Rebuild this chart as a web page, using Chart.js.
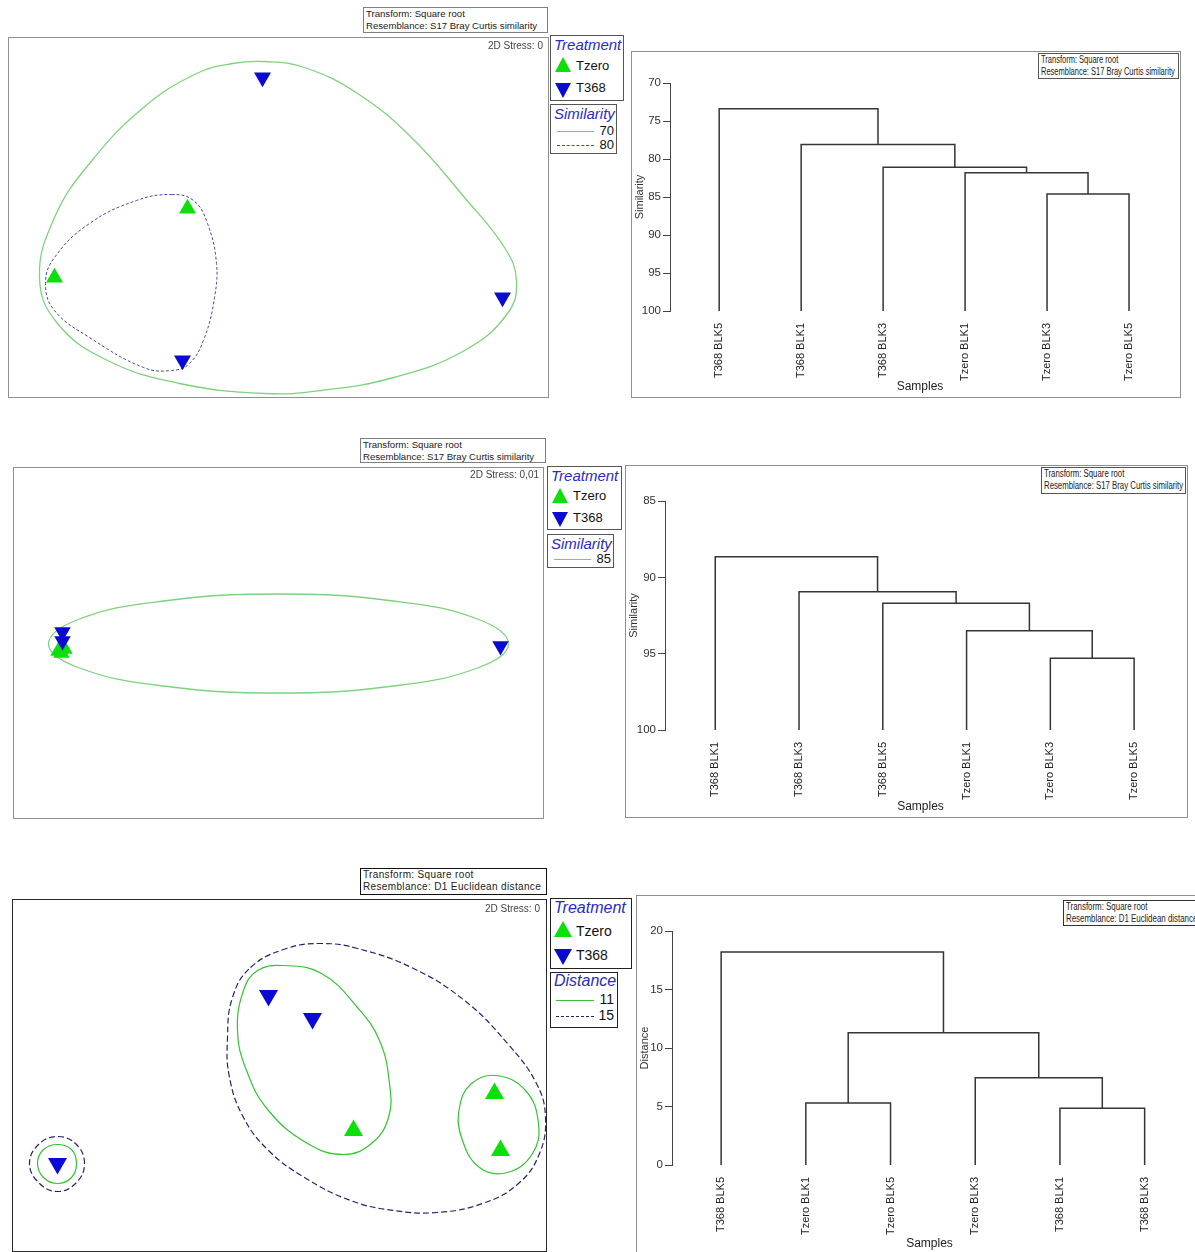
<!DOCTYPE html>
<html>
<head>
<meta charset="utf-8">
<title>nMDS and cluster dendrograms</title>
<script src="https://cdn.jsdelivr.net/npm/chart.js@4.4.1/dist/chart.umd.min.js"></script>
<style>
  html, body { margin: 0; padding: 0; background: #fff; }
  body { position: relative; width: 1195px; height: 1252px; overflow: hidden;
         font-family: "Liberation Sans", Arial, sans-serif; }
  .abs { position: absolute; box-sizing: border-box; }
  .frame { border: 1px solid #8f8f8f; background: #fff; }
  .frame.dark { border-color: #2a2a2a; }
  .frame canvas { display: block; }
  .info { border: 1px solid #808080; background: #fff; font-size: 9.6px; line-height: 12px;
          padding: 0 0 0 2px; color: #222; white-space: nowrap; }
  .info.dark { border: 1.5px solid #111; font-size: 10px; letter-spacing: 0.35px; }
  .info.narrow { font-size: 10px; border-color: #555; overflow: hidden; }
  .info.narrow div { transform-origin: 0 50%; }
  .stress { font-size: 10px; color: #444; white-space: nowrap; text-align: right; z-index: 2; }
  .lg { border: 1px solid #555; background: #fff; }
  .lg.dark { border: 1.5px solid #222; }
  .lgt { font-style: italic; color: #2a2ac8; white-space: nowrap; }
  .lgi { font-size: 13px; line-height: 15px; color: #111; white-space: nowrap; }
  .val { font-size: 13px; line-height: 15px; color: #111; text-align: right; }
  .tri-up { width: 0; height: 0; border-left: 8.5px solid transparent; border-right: 8.5px solid transparent;
            border-bottom: 15px solid #0be00b; }
  .tri-dn { width: 0; height: 0; border-left: 8.5px solid transparent; border-right: 8.5px solid transparent;
            border-top: 15px solid #0a0ad2; }
  .ln { height: 0; }
</style>
</head>
<body>

<!-- ===== Row 1: Bray-Curtis nMDS + dendrogram ===== -->
<div class="abs info" style="left:363px;top:7px;width:185px;height:26px;">
  <div>Transform: Square root</div><div>Resemblance: S17 Bray Curtis similarity</div>
</div>
<div class="abs frame" style="left:8px;top:37px;width:541px;height:361px;">
  <canvas id="mdsA" width="539" height="359"></canvas>
</div>
<div class="abs stress" style="left:440px;top:40px;width:103px;">2D Stress: 0</div>
<div class="abs lg" style="left:550px;top:35px;width:74px;height:66px;">
  <div class="abs lgt" style="left:3px;top:0px;font-size:15px;line-height:17px;">Treatment</div>
  <div class="abs tri-up" style="left:4px;top:21px;"></div>
  <div class="abs lgi" style="left:25px;top:22px;">Tzero</div>
  <div class="abs tri-dn" style="left:4px;top:47px;"></div>
  <div class="abs lgi" style="left:25px;top:44px;">T368</div>
</div>
<div class="abs lg" style="left:550px;top:104px;width:67px;height:50px;">
  <div class="abs lgt" style="left:3px;top:0px;font-size:15px;line-height:17px;">Similarity</div>
  <div class="abs ln" style="left:6px;top:26px;width:37px;border-top:1px solid #6fcf6f;"></div>
  <div class="abs val" style="right:2px;top:18px;">70</div>
  <div class="abs ln" style="left:6px;top:40px;width:37px;border-top:1px dashed #4a4aa8;"></div>
  <div class="abs val" style="right:2px;top:32px;">80</div>
</div>

<div class="abs frame" style="left:631px;top:51px;width:550px;height:347px;">
  <canvas id="dendA" width="548" height="345"></canvas>
</div>
<div class="abs info narrow" style="left:1038px;top:53px;width:141px;height:26px;">
  <div style="transform:scaleX(0.75)">Transform: Square root</div>
  <div style="transform:scaleX(0.75)">Resemblance: S17 Bray Curtis similarity</div>
</div>

<!-- ===== Row 2: Bray-Curtis nMDS + dendrogram ===== -->
<div class="abs info" style="left:360px;top:438px;width:186px;height:25px;">
  <div>Transform: Square root</div><div>Resemblance: S17 Bray Curtis similarity</div>
</div>
<div class="abs frame" style="left:13px;top:467px;width:531px;height:352px;">
  <canvas id="mdsB" width="529" height="350"></canvas>
</div>
<div class="abs stress" style="left:420px;top:469px;width:119px;">2D Stress: 0,01</div>
<div class="abs lg" style="left:547px;top:466px;width:75px;height:64px;">
  <div class="abs lgt" style="left:3px;top:0px;font-size:15px;line-height:17px;">Treatment</div>
  <div class="abs tri-up" style="left:4px;top:21px;"></div>
  <div class="abs lgi" style="left:25px;top:21px;">Tzero</div>
  <div class="abs tri-dn" style="left:4px;top:45px;"></div>
  <div class="abs lgi" style="left:25px;top:43px;">T368</div>
</div>
<div class="abs lg" style="left:547px;top:534px;width:67px;height:34px;">
  <div class="abs lgt" style="left:3px;top:0px;font-size:15px;line-height:17px;">Similarity</div>
  <div class="abs ln" style="left:6px;top:24px;width:37px;border-top:1px solid #6fcf6f;"></div>
  <div class="abs val" style="right:2px;top:16px;">85</div>
</div>

<div class="abs frame" style="left:625px;top:465px;width:563px;height:353px;">
  <canvas id="dendB" width="561" height="351"></canvas>
</div>
<div class="abs info narrow" style="left:1041px;top:467px;width:145px;height:27px;">
  <div style="transform:scaleX(0.78)">Transform: Square root</div>
  <div style="transform:scaleX(0.78)">Resemblance: S17 Bray Curtis similarity</div>
</div>

<!-- ===== Row 3: Euclidean nMDS + dendrogram ===== -->
<div class="abs info dark" style="left:360px;top:868px;width:187px;height:27px;">
  <div>Transform: Square root</div><div>Resemblance: D1 Euclidean distance</div>
</div>
<div class="abs frame dark" style="left:12px;top:899px;width:535px;height:353px;">
  <canvas id="mdsC" width="533" height="351"></canvas>
</div>
<div class="abs stress" style="left:430px;top:903px;width:110px;">2D Stress: 0</div>
<div class="abs lg dark" style="left:550px;top:898px;width:82px;height:71px;">
  <div class="abs lgt" style="left:3px;top:0px;font-size:16px;line-height:18px;">Treatment</div>
  <div class="abs" style="left:3px;top:22px;width:0;height:0;border-left:9px solid transparent;border-right:9px solid transparent;border-bottom:16px solid #0be00b;"></div>
  <div class="abs lgi" style="left:25px;top:24px;font-size:14px;line-height:16px;">Tzero</div>
  <div class="abs" style="left:3px;top:50px;width:0;height:0;border-left:9px solid transparent;border-right:9px solid transparent;border-top:16px solid #0a0ad2;"></div>
  <div class="abs lgi" style="left:25px;top:48px;font-size:14px;line-height:16px;">T368</div>
</div>
<div class="abs lg dark" style="left:550px;top:972px;width:68px;height:56px;">
  <div class="abs lgt" style="left:3px;top:-1px;font-size:16px;line-height:18px;">Distance</div>
  <div class="abs ln" style="left:5px;top:27px;width:38px;border-top:1.2px solid #33c433;"></div>
  <div class="abs val" style="right:3px;top:19px;font-size:14px;">11</div>
  <div class="abs ln" style="left:5px;top:43px;width:38px;border-top:1.5px dashed #24246e;"></div>
  <div class="abs val" style="right:3px;top:35px;font-size:14px;">15</div>
</div>

<div class="abs frame" style="left:636px;top:895px;width:562px;height:360px;">
  <canvas id="dendC" width="560" height="358"></canvas>
</div>
<div class="abs info narrow" style="left:1063px;top:900px;width:134px;height:26px;border-color:#333;">
  <div style="transform:scaleX(0.79)">Transform: Square root</div>
  <div style="transform:scaleX(0.79)">Resemblance: D1 Euclidean distance</div>
</div>

<script>
// ---------------- nMDS ordination coordinates (arbitrary MDS units) ----------------
// Row 1: Bray-Curtis similarity
const mdsA_Tzero = [[-0.91, 0.09], [-2.24, -0.60]];
const mdsA_T368  = [[-0.16, 1.40], [-0.96, -1.43], [2.24, -0.80]];
const mdsA_sim70 = [[-0.14, 1.56], [0.26, 1.50], [0.79, 1.24], [1.33, 0.80], [1.86, 0.20], [2.26, -0.30],
                    [2.38, -0.63], [2.29, -0.96], [1.86, -1.33], [1.15, -1.60], [0.43, -1.73], [-0.14, -1.76],
                    [-0.99, -1.66], [-1.71, -1.43], [-2.21, -1.06], [-2.39, -0.60], [-2.24, 0.00], [-1.89, 0.54],
                    [-1.35, 1.10], [-0.82, 1.44], [-0.46, 1.54]];
const mdsA_sim80 = [[-1.07, 0.23], [-0.85, 0.17], [-0.71, -0.06], [-0.62, -0.46], [-0.64, -0.80], [-0.74, -1.20],
                    [-0.89, -1.46], [-1.07, -1.53], [-1.35, -1.50], [-1.89, -1.20], [-2.24, -0.93], [-2.33, -0.66],
                    [-2.24, -0.40], [-1.89, -0.06], [-1.42, 0.17]];

// Row 2: Bray-Curtis similarity
const mdsB_Tzero = [[-2.20, -0.08], [-2.14, -0.06], [-2.17, -0.10]];
const mdsB_T368  = [[-2.16, 0.11], [-2.16, 0.02], [2.22, -0.03]];
const mdsB_sim85 = [[2.30, -0.01], [1.99, 0.24], [1.15, 0.42], [0.00, 0.49], [-1.15, 0.42], [-1.99, 0.24],
                    [-2.30, -0.01], [-1.99, -0.25], [-1.15, -0.43], [0.00, -0.50], [1.15, -0.43], [1.99, -0.25]];

// Row 3: Euclidean distance
const mdsC_Tzero = [[0.74, -0.55], [2.15, -0.18], [2.21, -0.75]];
const mdsC_T368  = [[-0.11, 0.80], [0.33, 0.57], [-2.22, -0.88]];
const mdsC_dist11 = [
  [[-2.03, -0.88], [-2.08, -0.74], [-2.22, -0.69], [-2.36, -0.74], [-2.42, -0.88], [-2.36, -1.02], [-2.22, -1.08], [-2.08, -1.02]],
  [[0.03, 1.10], [0.42, 1.02], [0.78, 0.68], [1.00, 0.35], [1.10, -0.08], [1.09, -0.42], [0.92, -0.68], [0.64, -0.79],
   [0.28, -0.68], [-0.11, -0.35], [-0.33, 0.05], [-0.42, 0.45], [-0.36, 0.85], [-0.22, 1.05]],
  [[2.17, 0.00], [2.46, -0.15], [2.59, -0.48], [2.53, -0.78], [2.28, -0.97], [2.00, -0.92], [1.82, -0.62], [1.80, -0.32], [1.92, -0.08]]
];
const mdsC_dist15 = [
  [[-1.95, -0.88], [-2.03, -0.69], [-2.22, -0.61], [-2.41, -0.69], [-2.50, -0.88], [-2.41, -1.07], [-2.22, -1.16], [-2.03, -1.07]],
  [[-0.29, 1.08], [0.07, 1.27], [0.42, 1.32], [0.78, 1.27], [1.32, 1.08], [1.85, 0.75], [2.28, 0.32], [2.57, -0.08],
   [2.66, -0.42], [2.60, -0.78], [2.39, -1.08], [2.03, -1.28], [1.57, -1.37], [1.14, -1.35], [0.71, -1.25], [0.25, -1.02],
   [-0.11, -0.75], [-0.36, -0.42], [-0.50, -0.02], [-0.52, 0.38], [-0.47, 0.78]]
];

// ---------------- Cluster dendrograms ----------------
// merges: pairs of node ids (0..5 are leaves, 6+ are earlier merges, in order)
const dendA_leaves  = ['T368 BLK5', 'T368 BLK1', 'T368 BLK3', 'Tzero BLK1', 'Tzero BLK3', 'Tzero BLK5'];
const dendA_merges  = [[4, 5], [3, 6], [2, 7], [1, 8], [0, 9]];
const dendA_heights = [84.6, 81.8, 81.1, 78.1, 73.4];
const dendA_ticks   = [70, 75, 80, 85, 90, 95, 100];

const dendB_leaves  = ['T368 BLK1', 'T368 BLK3', 'T368 BLK5', 'Tzero BLK1', 'Tzero BLK3', 'Tzero BLK5'];
const dendB_merges  = [[4, 5], [3, 6], [2, 7], [1, 8], [0, 9]];
const dendB_heights = [95.3, 93.5, 91.7, 90.95, 88.65];
const dendB_ticks   = [85, 90, 95, 100];

const dendC_leaves  = ['T368 BLK5', 'Tzero BLK1', 'Tzero BLK5', 'Tzero BLK3', 'T368 BLK1', 'T368 BLK3'];
const dendC_merges  = [[4, 5], [1, 2], [3, 6], [7, 8], [0, 9]];
const dendC_heights = [4.85, 5.3, 7.45, 11.3, 18.2];
const dendC_ticks   = [0, 5, 10, 15, 20];

// ---------------- styling ----------------
const GREEN_MARK = '#0be00b';
const BLUE_MARK  = '#0a0ad2';
const SANS = '"Liberation Sans", Arial, sans-serif';

// A closed, smoothed outline: a line controller whose element loops back to its first point.
class ContourController extends Chart.LineController {
  update(mode) {
    const line = this._cachedMeta.dataset;
    if (line) { line._loop = true; line._fullLoop = true; }
    super.update(mode);
  }
}
ContourController.id = 'contour';
ContourController.defaults = { ...Chart.LineController.defaults, showLine: true, spanGaps: false };
Chart.register(ContourController);

const toXY = arr => arr.map(([x, y]) => ({ x, y }));

function markerSet(points, color, down, radius) {
  return { type: 'scatter', data: toXY(points), pointStyle: 'triangle', rotation: down ? 180 : 0,
           pointRadius: radius, pointHoverRadius: radius, backgroundColor: color, borderWidth: 0 };
}
function contourSet(points, color, width, dash) {
  return { type: 'contour', data: toXY(points), borderColor: color, borderWidth: width,
           borderDash: dash || [], tension: 0.42, pointRadius: 0, fill: false };
}

function mdsChart(id, xHalf, yHalf, datasets) {
  return new Chart(document.getElementById(id), {
    type: 'scatter',
    data: { datasets },
    options: {
      responsive: false, animation: false, events: [],
      layout: { padding: 0, autoPadding: false },
      plugins: { legend: { display: false }, tooltip: { enabled: false } },
      scales: {
        x: { type: 'linear', display: false, min: -xHalf, max: xHalf },
        y: { type: 'linear', display: false, min: -yHalf, max: yHalf }
      }
    }
  });
}

mdsChart('mdsA', 2.695, 1.795, [
  markerSet(mdsA_T368, BLUE_MARK, true, 9.8),
  markerSet(mdsA_Tzero, GREEN_MARK, false, 9.8),
  contourSet(mdsA_sim80, '#4a4aa8', 1, [3, 2]),
  contourSet(mdsA_sim70, '#7ed27e', 1.3)
]);

mdsChart('mdsB', 2.645, 1.75, [
  markerSet(mdsB_T368, BLUE_MARK, true, 9.5),
  markerSet(mdsB_Tzero, GREEN_MARK, false, 9.5),
  contourSet(mdsB_sim85, '#7ed27e', 1.3)
]);

mdsChart('mdsC', 2.665, 1.755, [
  markerSet(mdsC_T368, BLUE_MARK, true, 11),
  markerSet(mdsC_Tzero, GREEN_MARK, false, 11),
  ...mdsC_dist11.map(c => contourSet(c, '#33c433', 1.2)),
  ...mdsC_dist15.map(c => contourSet(c, '#24246e', 1.2, [6, 3]))
]);

// Build the bracket segments of a dendrogram from its merge list.
function dendroSets(leaves, merges, heights, leafLevel) {
  const nodeX = leaves.map((_, i) => i);
  const nodeH = leaves.map(() => leafLevel);
  const sets = [];
  merges.forEach(([a, b], k) => {
    const h = heights[k];
    sets.push({
      type: 'scatter', showLine: true, tension: 0, pointRadius: 0,
      borderColor: '#353535', borderWidth: 1.5,
      data: [{ x: nodeX[a], y: nodeH[a] }, { x: nodeX[a], y: h }, { x: nodeX[b], y: h }, { x: nodeX[b], y: nodeH[b] }]
    });
    nodeX.push((nodeX[a] + nodeX[b]) / 2);
    nodeH.push(h);
  });
  return sets;
}

function dendroChart(id, cfg) {
  const { leaves, merges, heights, ticks, reverse, yTitle, padTop, padRight, yWidth, xHeight, xMin, xMax } = cfg;
  const lo = Math.min(...ticks), hi = Math.max(...ticks);
  return new Chart(document.getElementById(id), {
    type: 'scatter',
    data: { datasets: dendroSets(leaves, merges, heights, reverse ? hi : lo) },
    options: {
      responsive: false, animation: false, events: [],
      layout: { padding: { top: padTop, right: padRight, left: 0, bottom: 0 }, autoPadding: false },
      plugins: { legend: { display: false }, tooltip: { enabled: false } },
      scales: {
        x: {
          type: 'linear', min: xMin, max: xMax,
          grid: { display: false }, border: { display: false },
          afterBuildTicks: s => { s.ticks = leaves.map((_, i) => ({ value: i })); },
          afterFit: s => { s.height = xHeight; },
          ticks: { autoSkip: false, minRotation: 90, maxRotation: 90, padding: 4, color: '#222',
                   font: { family: SANS, size: 11 }, callback: v => leaves[v] },
          title: { display: true, text: 'Samples', color: '#222', font: { family: SANS, size: 12 },
                   padding: { top: 2, bottom: 3 } }
        },
        y: {
          type: 'linear', reverse, min: lo, max: hi,
          afterBuildTicks: s => { s.ticks = ticks.map(v => ({ value: v })); },
          afterFit: s => { s.width = yWidth; },
          grid: { drawOnChartArea: false, drawTicks: true, tickLength: 7, color: '#444', lineWidth: 1 },
          border: { display: true, color: '#444', width: 1 },
          ticks: { padding: 2, color: '#333', font: { family: SANS, size: 11.5 } },
          title: { display: true, text: yTitle, color: '#333', font: { family: SANS, size: 11 },
                   padding: { top: 1, bottom: 0 } }
        }
      }
    }
  });
}

dendroChart('dendA', { leaves: dendA_leaves, merges: dendA_merges, heights: dendA_heights, ticks: dendA_ticks,
  reverse: true, yTitle: 'Similarity', padTop: 31, padRight: 10, yWidth: 38, xHeight: 86, xMin: -0.6, xMax: 5.5 });

dendroChart('dendB', { leaves: dendB_leaves, merges: dendB_merges, heights: dendB_heights, ticks: dendB_ticks,
  reverse: true, yTitle: 'Similarity', padTop: 35, padRight: 11, yWidth: 39, xHeight: 87, xMin: -0.6, xMax: 5.5 });

dendroChart('dendC', { leaves: dendC_leaves, merges: dendC_merges, heights: dendC_heights, ticks: dendC_ticks,
  reverse: false, yTitle: 'Distance', padTop: 35, padRight: 10, yWidth: 35, xHeight: 89, xMin: -0.58, xMax: 5.5 });
</script>
</body>
</html>
